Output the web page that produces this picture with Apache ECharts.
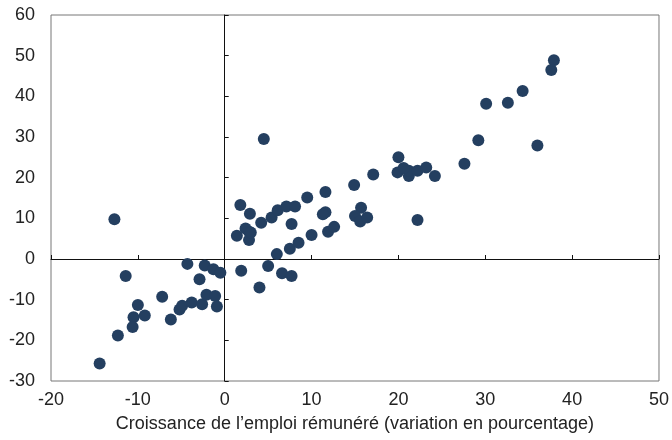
<!DOCTYPE html>
<html>
<head>
<meta charset="utf-8">
<script src="https://cdn.jsdelivr.net/npm/echarts@6/dist/echarts.min.js"></script>
<style>
  html, body { margin: 0; padding: 0; background: #fff; }
  #chart { width: 672px; height: 440px; }
</style>
</head>
<body>
<div id="chart"></div>
<script>
// croissance de l'emploi rémunéré (x) vs variable en ordonnée (y)
const xValues = [
  -12.7, -11.4, -4.3, -2.3, -1.3, -0.5, -2.9, -7.2, -10.0, -10.5, -9.2, -10.6,
  -12.3, -14.4, -6.2, -5.2, -4.9, -3.8, -2.6, -2.1, -1.1, -0.9,
  4.5, 1.8, 2.9, 1.4, 2.4, 2.8, 2.8, 1.9, 4.0, 5.0, 6.6, 7.7, 6.0, 7.5, 8.5,
  10.0, 4.2, 5.4, 6.1, 7.1, 8.1, 7.7, 9.5, 11.6, 11.6, 11.3, 11.9, 12.6, 14.9,
  17.1, 15.7, 15.0, 15.6, 16.4, 20.0, 19.9, 21.2, 21.2, 22.2, 23.2, 24.2, 22.2,
  37.9, 37.6, 34.3, 30.1, 32.6, 29.2, 36.0, 27.6, 20.6, 3.0
];
const yValues = [
  9.8, -4.2, -1.2, -1.6, -2.5, -3.4, -5.0, -9.3, -11.3, -14.3, -13.9, -16.7,
  -18.8, -25.7, -14.9, -12.4, -11.5, -10.7, -11.1, -8.8, -9.1, -11.7,
  29.5, 13.3, 11.1, 5.7, 7.5, 6.7, 4.7, -2.9, -7.0, -1.7, -3.5, -4.2, 1.2, 2.5, 4.0,
  5.9, 8.9, 10.2, 12.0, 12.9, 12.9, 8.6, 15.1, 16.5, 11.5, 11.0, 6.7, 7.9, 18.2,
  20.8, 12.6, 10.6, 9.2, 10.2, 25.0, 21.3, 20.4, 21.7, 21.7, 22.5, 20.4, 9.6,
  48.9, 46.5, 41.3, 38.2, 38.4, 29.2, 27.9, 23.4, 22.4, 6.5
];
const xTitle = "Croissance de l’emploi rémunéré (variation en pourcentage)";

const points = xValues.map((x, i) => [x, yValues[i]]);

const font = '"Liberation Sans Narrow", "Liberation Sans", sans-serif';
const chart = echarts.init(document.getElementById("chart"));

const option = {
  animation: false,
  grid: {
    left: 51,
    right: 10,
    top: 15,
    bottom: 59,
    show: true,
    borderColor: "#777",
    borderWidth: 1,
  },
  xAxis: [
    {
      type: "value",
      min: -20,
      max: 50,
      interval: 10,
      position: "bottom",
      axisLine: { show: false, onZero: false },
      axisTick: { show: false },
      splitLine: { show: false },
      axisLabel: { color: "#222", fontFamily: font, fontSize: 18, margin: 10 },
      name: xTitle,
      nameLocation: "middle",
      nameGap: 34,
      nameTextStyle: { color: "#222", fontFamily: font, fontSize: 18 },
    },
    {
      // axe passant par y = 0
      type: "value",
      min: -20,
      max: 50,
      interval: 10,
      position: "bottom",
      axisLine: { show: true, onZero: true, lineStyle: { color: "#111", width: 1 } },
      axisTick: { show: true, inside: true, length: 4, lineStyle: { color: "#111" } },
      axisLabel: { show: false },
      splitLine: { show: false },
    },
  ],
  yAxis: [
    {
      type: "value",
      min: -30,
      max: 60,
      interval: 10,
      position: "left",
      axisLine: { show: false, onZero: false },
      axisTick: { show: false },
      splitLine: { show: false },
      axisLabel: { color: "#222", fontFamily: font, fontSize: 18, margin: 16 },
    },
    {
      // axe passant par x = 0
      type: "value",
      min: -30,
      max: 60,
      interval: 10,
      position: "left",
      axisLine: { show: true, onZero: true, lineStyle: { color: "#111", width: 1 } },
      axisTick: { show: true, inside: true, length: 4, lineStyle: { color: "#111" } },
      axisLabel: { show: false },
      splitLine: { show: false },
    },
  ],
  series: [
    {
      type: "scatter",
      xAxisIndex: 0,
      yAxisIndex: 0,
      data: points,
      symbolSize: 12,
      itemStyle: { color: "#243f60", opacity: 1 },
      z: 5,
    },
  ],
};

chart.setOption(option);
</script>
</body>
</html>
